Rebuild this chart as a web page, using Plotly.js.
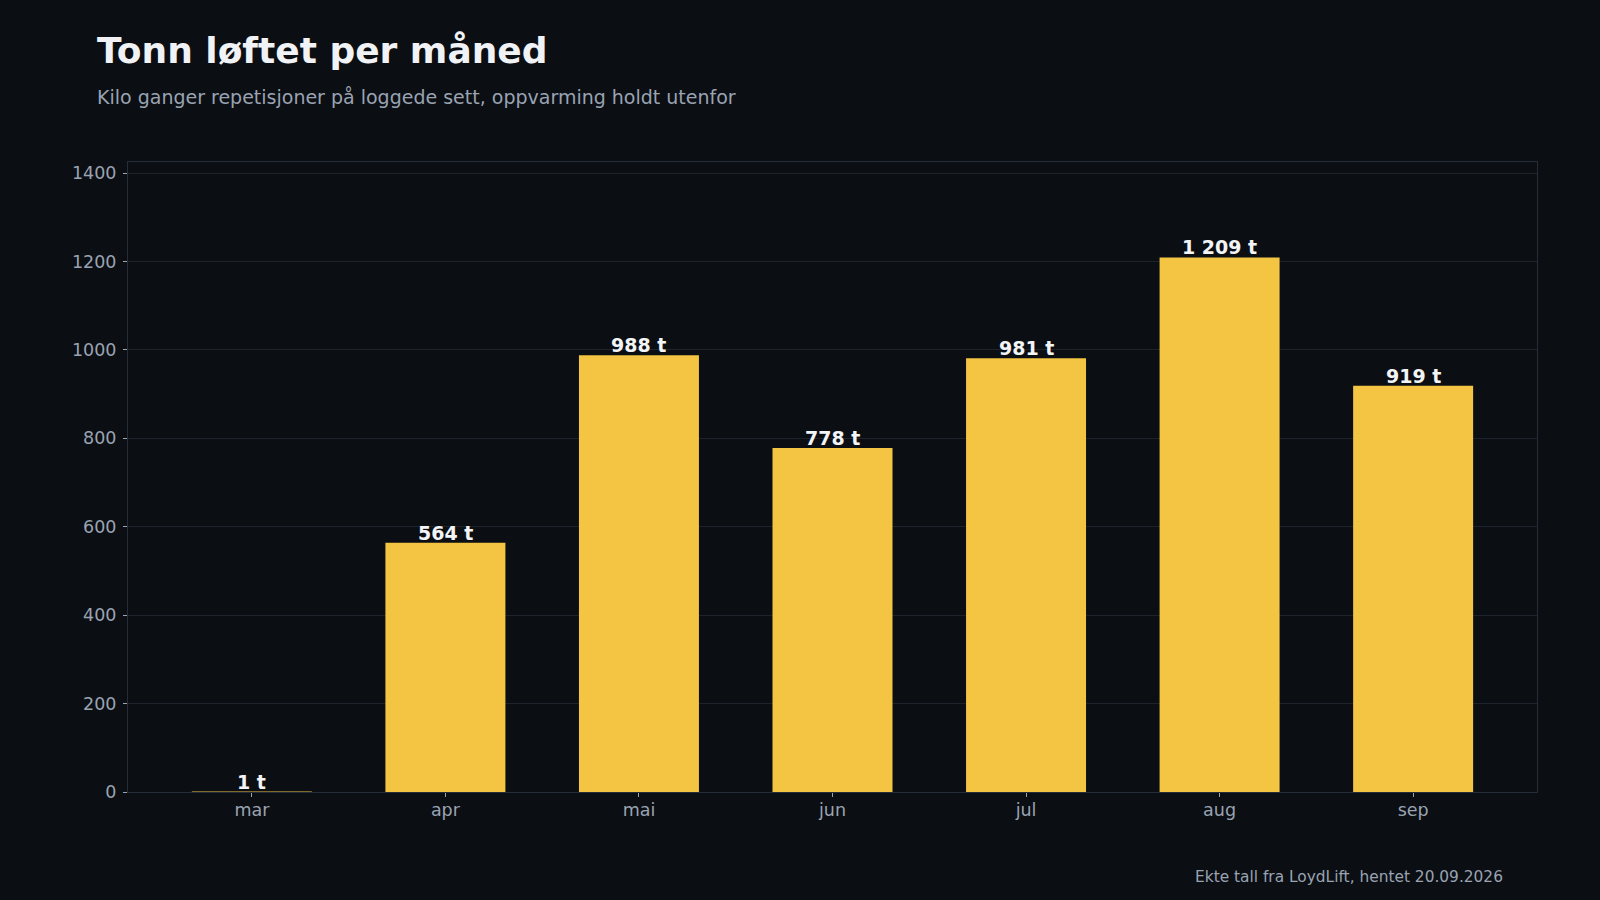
<!DOCTYPE html>
<html>
<head>
<meta charset="utf-8">
<script src="https://cdn.plot.ly/plotly-3.0.1.min.js"></script>
<style>
  html, body { margin: 0; padding: 0; background: #0b0e13; }
  #chart { width: 1600px; height: 900px; }
</style>
</head>
<body>
<div id="chart"></div>
<script>
const months = ["mar", "apr", "mai", "jun", "jul", "aug", "sep"];
const tonnes = [1, 564, 988, 778, 981, 1209, 919];
const yTicks = [0, 200, 400, 600, 800, 1000, 1200, 1400];

const titleText = "Tonn løftet per måned";
const subtitleText = "Kilo ganger repetisjoner på loggede sett, oppvarming holdt utenfor";
const footerText = "Ekte tall fra LoydLift, hentet 20.09.2026";

const FONT = "DejaVu Sans, Verdana, sans-serif";
const GREY = "#9aa3b2";

function fmtTonnes(v) {
  return Math.round(v).toString().replace(/\B(?=(\d{3})+(?!\d))/g, " ") + " t";
}

const trace = {
  type: "bar",
  x: months,
  y: tonnes,
  width: 0.62,
  marker: { color: "#f4c542", line: { width: 0 } },
  hoverinfo: "skip"
};

const valueLabels = months.map((m, i) => ({
  text: fmtTonnes(tonnes[i]),
  x: m,
  y: tonnes[i],
  xref: "x", yref: "y",
  xanchor: "center", yanchor: "bottom",
  yshift: -3,
  showarrow: false,
  font: { family: FONT, size: 19, color: "#f3f4f6", weight: 700 }
}));

const layout = {
  width: 1600,
  height: 900,
  paper_bgcolor: "#0b0e13",
  plot_bgcolor: "#0b0e13",
  margin: { l: 128, r: 63, t: 162, b: 108, pad: 0 },
  showlegend: false,
  font: { family: FONT, color: GREY, size: 17 },
  xaxis: {
    type: "category",
    range: [-0.64, 6.64],
    showgrid: false,
    zeroline: false,
    showline: true,
    mirror: true,
    linecolor: "#252d39",
    linewidth: 1,
    ticks: "outside",
    ticklen: 4,
    tickcolor: GREY,
    tickfont: { family: FONT, size: 17.5, color: GREY },
    ticklabelstandoff: -2
  },
  yaxis: {
    range: [0, 1425],
    tickvals: yTicks,
    ticktext: yTicks.map(String),
    showgrid: true,
    gridcolor: "#1c232d",
    gridwidth: 1,
    zeroline: false,
    showline: true,
    mirror: true,
    linecolor: "#252d39",
    linewidth: 1,
    ticks: "outside",
    ticklen: 4,
    tickcolor: GREY,
    tickfont: { family: FONT, size: 17.5, color: GREY },
    ticklabelstandoff: 3
  },
  annotations: [
    {
      text: titleText,
      xref: "paper", yref: "paper",
      x: (95 - 128) / 1409, y: (792 - 50.5) / 630,
      xanchor: "left", yanchor: "middle",
      showarrow: false,
      font: { family: FONT, size: 36, color: "#f0f2f5", weight: 700 }
    },
    {
      text: subtitleText,
      xref: "paper", yref: "paper",
      x: (95 - 128) / 1409, y: (792 - 97.5) / 630,
      xanchor: "left", yanchor: "middle",
      showarrow: false,
      font: { family: FONT, size: 19, color: GREY }
    },
    {
      text: footerText,
      xref: "paper", yref: "paper",
      x: (1505 - 128) / 1409, y: (792 - 876.5) / 630,
      xanchor: "right", yanchor: "middle",
      showarrow: false,
      font: { family: FONT, size: 15.4, color: GREY }
    }
  ].concat(valueLabels)
};

Plotly.newPlot("chart", [trace], layout, { displayModeBar: false, staticPlot: true });
</script>
</body>
</html>
